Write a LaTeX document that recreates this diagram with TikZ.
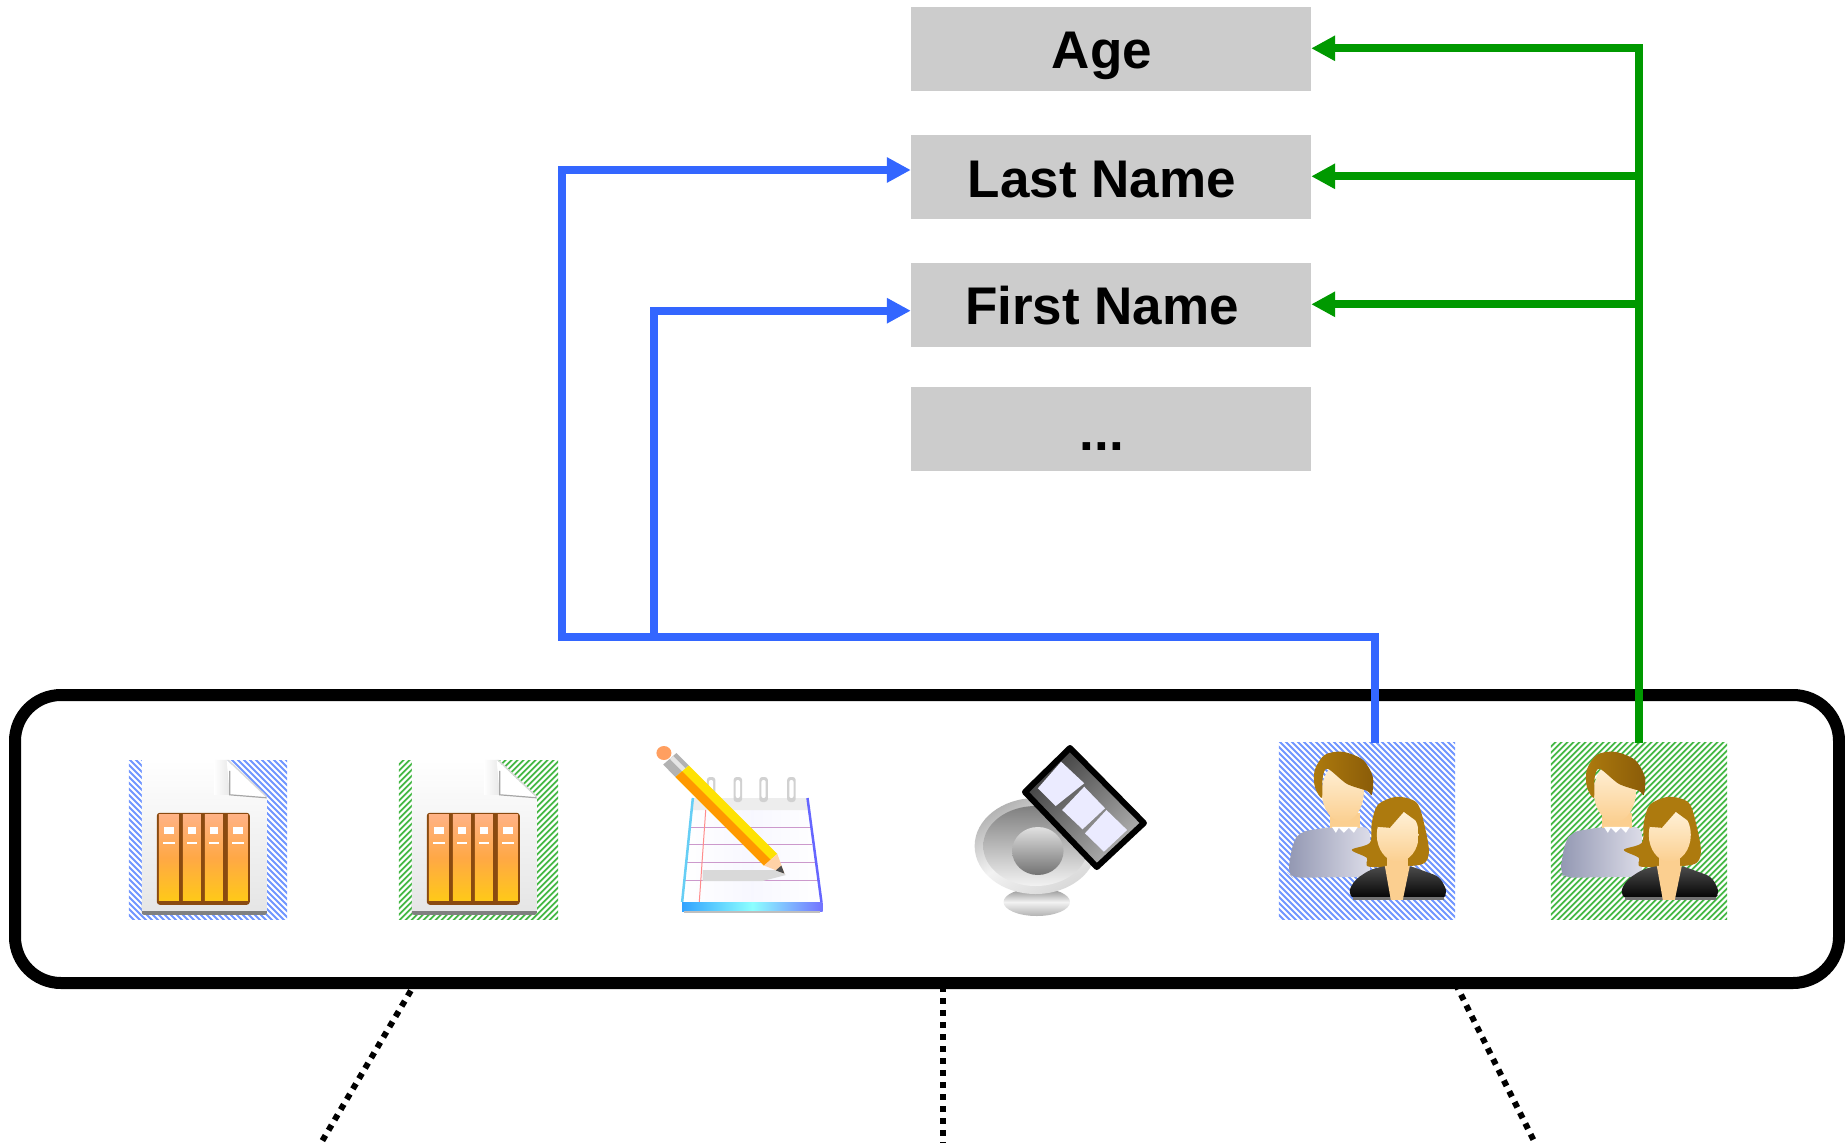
\documentclass[tikz,border=0pt]{standalone}
\usepackage{fontspec}
\setmainfont{Liberation Sans}
\usetikzlibrary{arrows.meta}
\definecolor{blueC}{HTML}{3366FF}
\definecolor{greenC}{HTML}{009900}
\definecolor{boxC}{HTML}{CCCCCC}
\definecolor{hatchB}{HTML}{7096FF}
\definecolor{hatchG}{HTML}{45B845}
\definecolor{hairC}{HTML}{AD7A0E}
\definecolor{hairD}{HTML}{8A5C08}
\definecolor{skinC}{HTML}{FBCF90}
\definecolor{skinL}{HTML}{FFF3DC}
\definecolor{shirtD}{HTML}{9297B2}
\definecolor{shirtL}{HTML}{DCDCE8}
\definecolor{bookT}{HTML}{FFB285}
\definecolor{bookM}{HTML}{FFA845}
\definecolor{bookB}{HTML}{FFC918}
\definecolor{bookE}{HTML}{8A4A10}
\tikzset{
  x=1pt,y=-1pt,
  fieldbox/.style={fill=boxC,draw=none,inner sep=0pt,minimum width=400pt,
    font=\fontsize{53}{60}\selectfont\bfseries,text depth=23pt},
  tray/.style={draw=black,line width=12pt,rounded corners=46pt,fill=white,inner sep=0pt,
    minimum width=1824pt,minimum height=288pt},
  iconbox/.style={inner sep=0pt,draw=none},
  blueline/.style={draw=blueC,line width=8pt},
  greenline/.style={draw=greenC,line width=8pt},
  tipped/.style={-{Triangle[length=24pt,width=24pt]}},
  dotline/.style={draw=black,line width=6pt,dash pattern=on 6pt off 6pt},
}
% hatched background of a named icon box
\newcommand{\hatchblue}[1]{%
  \begin{scope}
    \clip (#1.north west) rectangle (#1.south east);
    \begin{scope}[shift={(#1.north west)}]
      \foreach \k in {-180,-174,...,180}
        \draw[hatchB,line width=1.9pt] (\k,-2) -- ({\k+182},180);
    \end{scope}
  \end{scope}}
\newcommand{\hatchgreen}[1]{%
  \begin{scope}
    \clip (#1.north west) rectangle (#1.south east);
    \begin{scope}[shift={(#1.north west)}]
      \foreach \k in {0,6,...,360}
        \draw[hatchG,line width=1.9pt] (\k,-2) -- ({\k-182},180);
    \end{scope}
  \end{scope}}
% document with books, local origin = top-left of box
\newcommand{\bookicon}[1]{%
  \begin{scope}[shift={(#1.north west)}]
    \fill[black!50,rounded corners=2pt] (13,140) -- (138,140) -- (138,154) -- (13,154) -- cycle;
    \shade[top color=white,bottom color=black!10] (13,-1) -- (98,-1) -- (138,37) -- (138,150) -- (13,150) -- cycle;
    \shade[left color=white,right color=black!9] (85,-1) -- (98,-1) -- (101,34) -- (85,34) -- cycle;
    \fill[white] (98,0) -- (138,37) -- (102,35) -- (101,34) -- cycle;
    \draw[black!35,line width=1.2pt] (101,10) -- (101,34) -- (138,37);
    \fill[black!15] (98,-1) -- (100,-1) -- (138,35) -- (138,37) -- cycle;
    \fill[bookE,rounded corners=3pt] (28,52) rectangle (121,144);
    \foreach \a/\b in {30/50,54/72,76/94,99/119}{
      \shade[top color=bookT,bottom color=bookB,middle color=bookM] (\a,54) rectangle (\b,140);
      \fill[white] ({\a+5},66) rectangle ({\b-5},73);
      \fill[white] ({\a+4},81) rectangle ({\b-4},83);
    }
  \end{scope}}
% two people, local origin = top-left of box
\newcommand{\peopleicon}[1]{%
  \begin{scope}[shift={(#1.north west)}]
    % man
    \shade[left color=shirtD,right color=shirtL,rounded corners=8pt]
      (21,89) -- (53,84) -- (91,84) -- (91,134) -- (14,135) -- (9,130) -- (14,100) -- cycle;
    \fill[skinC] (51,70) rectangle (81,85);
    \fill[white] (53,84) -- (79,84) -- (75,90) -- (70,85) -- (65,90) -- (60,85) -- (57,90) -- cycle;
    \shade[top color=skinL,bottom color=skinC] (64,49) ellipse [x radius=21,y radius=30];
    \shade[left color=hairC,right color=hairD,draw=none]
      plot[smooth cycle,tension=.5] coordinates {(36,27) (46,12) (64,9) (84,17) (94,34) (93,52) (88,48) (68,41) (49,26) (44,34) (43,55) (36,44)};
    % woman
    \fill[hairC] plot[smooth cycle,tension=.5] coordinates {(93,80) (99,62) (118,54) (138,60) (146,84) (150,110) (141,122) (91,124) (88,115) (73,107) (91,100)};
    \shade[top color=black!70,bottom color=black,middle color=black!85,rounded corners=6pt]
      (91,127) -- (106,123) -- (131,123) -- (161,134) -- (169,150) -- (163,157) -- (76,157) -- (69,150) -- (76,137) -- cycle;
    \fill[black!55] (74,154) rectangle (165,157);
    \fill[skinC] (106,123) -- (131,123) -- (124,157) -- (112,157) -- cycle;
    \fill[skinC] (108,112) rectangle (129,126);
    \shade[top color=skinL,bottom color=skinC] (119,92) ellipse [x radius=21,y radius=27];
    \fill[hairC] (99,84) -- (111,85) -- (125,69) -- (140,80) -- (136,60) -- (118,58) -- (99,64) -- cycle;
  \end{scope}}
\begin{document}
\begin{tikzpicture}
\useasboundingbox (0,0) rectangle (1845,1143);
% dotted leaders (under the tray)
\coordinate (dl1) at (410.8,990.7); \coordinate (dl2) at (321,1143);
\coordinate (dm1) at (943,986);     \coordinate (dm2) at (943,1143);
\coordinate (dr1) at (1455.6,983.9);\coordinate (dr2) at (1535,1143);
\draw[dotline] (dl1) -- (dl2);
\draw[dotline] (dm1) -- (dm2);
\draw[dotline] (dr1) -- (dr2);
% tray
\node[tray] (tray) at (927,839) {};
% field boxes
\node[fieldbox,text height=61pt] (age)   at (1111,49)  {\hspace*{-18pt}Age};
\node[fieldbox,text height=62pt,text depth=22pt] (last)  at (1111,177) {\hspace*{-18pt}Last Name};
\node[fieldbox,text height=61pt] (first) at (1111,305) {\hspace*{-18pt}First Name};
\node[fieldbox,text height=63pt,text depth=21pt] (more)  at (1111,429) {\hspace*{-18pt}...};
% icon boxes
\node[iconbox,minimum width=158pt,minimum height=158pt] (bookA) at (208,840) {};
\node[iconbox,minimum width=159pt,minimum height=158pt] (bookB) at (478.5,840) {};
\node[iconbox,minimum width=176pt,minimum height=176pt] (peopleA) at (1367,831) {};
\node[iconbox,minimum width=176pt,minimum height=176pt] (peopleB) at (1639,831) {};
\hatchblue{bookA}\hatchgreen{bookB}\hatchblue{peopleA}\hatchgreen{peopleB}
\bookicon{bookA}\bookicon{bookB}
\peopleicon{peopleA}\peopleicon{peopleB}
\begin{scope}[shift={(620,0)},xscale=1.0714,shift={(-620,0)}]
% notepad
\shade[left color=white,right color=white,middle color=blue!3] (688,798) -- (795,798) -- (808,902) -- (678,902) -- cycle;
\fill[black!7] (688,798) -- (795,798) -- (797,810) -- (687,810) -- cycle;
\foreach \yy/\xa/\xb in {827/685/797,844/683/799,862/681/802,880/680/805}
  \draw[violet!40,line width=1pt] (\xa,\yy) -- (\xb,\yy);
\draw[red!45,line width=1pt] (700,810) -- (694,902);
\draw[cyan!60,line width=2.5pt] (688,798) -- (678,902);
\draw[blue!60,line width=2.5pt] (795,798) -- (808,902);
\shade[left color=blue!45!cyan!80,right color=blue!55,middle color=cyan!45] (678,902) rectangle (809,911);
\fill[black!25] (680,911) rectangle (807,913);
\foreach \xx in {705,730,754,780}{
  \fill[black!18,rounded corners=3pt] (\xx-4,777) rectangle (\xx+4,802);
  \fill[white,rounded corners=2pt] (\xx-2,780) rectangle (\xx+2,798);
}
\fill[black!15] (697,870) -- (767,870) -- (775,875) -- (753,881) -- (697,881) -- cycle;
% pencil
\fill[orange!50!pink] (661,753) circle [radius=7];
\fill[black!30] (672.7,753) -- (684.2,765.5) -- (671.8,777.1) -- (660.3,764.6) -- cycle;
\fill[black!10] (669.6,756) -- (681.1,768.4) -- (678,771.3) -- (666.5,758.8) -- cycle;
\fill[yellow!85!orange] (684.2,765.5) -- (766.8,853.9) -- (754.4,865.5) -- (671.8,777.1) -- cycle;
\fill[orange!80!yellow] (678,771.3) -- (760.6,859.7) -- (754.4,865.5) -- (671.8,777.1) -- cycle;
\fill[orange!35!white] (766.8,853.9) -- (773.5,873.6) -- (754.4,865.5) -- cycle;
\fill[black!70] (770.6,865.6) -- (773.5,873.6) -- (765.4,870.4) -- cycle;
% speaker with player
\shade[top color=black!45,bottom color=black!30,middle color=black!5] (1009,902) ellipse [x radius=31,y radius=14];
\shade[left color=black!30,right color=black!15,middle color=black!5,shading angle=30] (1008,846) ellipse [x radius=57,y radius=48];
\shade[top color=black!50,bottom color=black!5] (1008,846) ellipse [x radius=49,y radius=40];
\shade[top color=black!12,bottom color=black!55] (1010,851) circle [radius=24];
\shade[left color=black!75,right color=black!30,draw=black,line width=6pt,line join=round,shading angle=45]
  (1040,748) -- (1109,823) -- (1065,867) -- (998,792) -- cycle;
\fill[blue!8] (1031.7,761.7) -- (1053.3,783.3) -- (1026.7,806) -- (1010,788.3) -- cycle;
\fill[blue!8] (1053.3,786.7) -- (1072.7,808.3) -- (1051.7,829.3) -- (1032.7,810) -- cycle;
\fill[blue!8] (1074,810) -- (1093.3,830) -- (1071.7,851.7) -- (1054,833.3) -- cycle;
\end{scope}
% connectors
\coordinate (bs) at (1375,743);
\coordinate (bj2) at (562,637);
\coordinate (bj1) at (654,637);
\coordinate (gs) at (1639,743);
\coordinate (gj2) at (1639,176.3);
\coordinate (gj1) at (1639,304.3);
\draw[blueline,tipped] (bs) |- (bj2) |- ([yshift=7pt]last.west);
\draw[blueline,tipped] (bj1) |- ([yshift=-5.7pt]first.west);
\draw[greenline,tipped] (gs) |- ([yshift=.7pt]age.east);
\draw[greenline,tipped] (gj2) -- ([yshift=.7pt]last.east);
\draw[greenline,tipped] (gj1) -- ([yshift=.7pt]first.east);
\end{tikzpicture}
\end{document}
